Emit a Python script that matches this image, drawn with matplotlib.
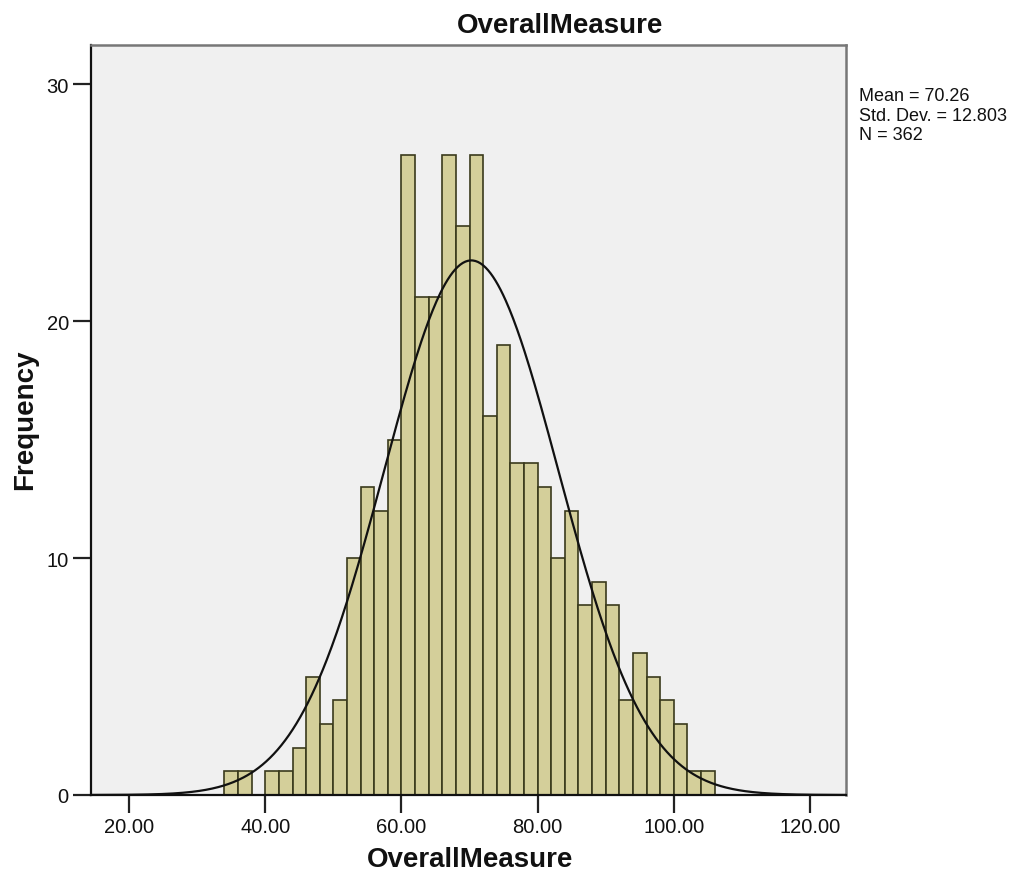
import numpy as np
import matplotlib
matplotlib.use("Agg")
import matplotlib.pyplot as plt

# ---- data ----
bin_edges = list(range(34, 108, 2))
counts = [1, 1, 0, 1, 1, 2, 5, 3, 4, 10, 13, 12, 15, 27, 21, 21, 27, 24, 27,
          16, 19, 14, 14, 13, 10, 12, 8, 9, 8, 4, 6, 5, 4, 3, 1, 1]
x_ticks = [20, 40, 60, 80, 100, 120]
x_tick_labels = ["20.00", "40.00", "60.00", "80.00", "100.00", "120.00"]
y_ticks = [0, 10, 20, 30]
mean_val = 70.26
std_val = 12.803
n_val = 362
title = "OverallMeasure"
x_label = "OverallMeasure"
y_label = "Frequency"

plt.rcParams['font.family'] = ['Liberation Sans', 'DejaVu Sans']

W, H = 1028, 878
fig = plt.figure(figsize=(W / 100, H / 100), dpi=100)
fig.patch.set_facecolor('white')

ax = fig.add_axes([91 / W, 1 - 796 / H, (846 - 91) / W, (796 - 46) / H])
ax.set_facecolor('#f0f0f0')

bw = bin_edges[1] - bin_edges[0]
lefts = bin_edges[:-1]
ax.bar(lefts, counts, width=bw, align='edge', color='#d4cf9a',
       edgecolor='#3a3a1c', linewidth=1.2, zorder=2)

xlim = (14.4, 125.3)
xs = np.linspace(xlim[0], xlim[1], 600)
ys = n_val * bw / (std_val * np.sqrt(2 * np.pi)) * np.exp(-0.5 * ((xs - mean_val) / std_val) ** 2)
ax.plot(xs, ys, color='#111111', linewidth=1.6, zorder=3)

ax.set_xlim(*xlim)
ax.set_ylim(0, 31.65)
ax.set_xticks(x_ticks)
ax.set_xticklabels(x_tick_labels)
ax.set_yticks(y_ticks)
ax.tick_params(axis='both', direction='out', length=13, width=1.6,
               color='#222222', labelsize=14.5, labelcolor='#111111', pad=3)

for side in ['left', 'bottom']:
    ax.spines[side].set_color('#111111')
    ax.spines[side].set_linewidth(1.6)
for side in ['top', 'right']:
    ax.spines[side].set_color('#777777')
    ax.spines[side].set_linewidth(1.8)

fig.text(560 / W, 1 - 26 / H, title, ha='center', va='center',
         fontsize=20, fontweight='bold', color='#111111')
fig.text(470 / W, 1 - 860 / H, x_label, ha='center', va='center',
         fontsize=20, fontweight='bold', color='#111111')
fig.text(25 / W, 1 - 420 / H, y_label, ha='center', va='center', rotation=90,
         fontsize=20, fontweight='bold', color='#111111')

stats = f"Mean = {mean_val:.2f}\nStd. Dev. = {std_val:.3f}\nN = {n_val}"
fig.text(859 / W, 1 - 88 / H, stats, ha='left', va='top', fontsize=13,
         linespacing=1.2, color='#111111')

fig.savefig('out.png', dpi=100)
